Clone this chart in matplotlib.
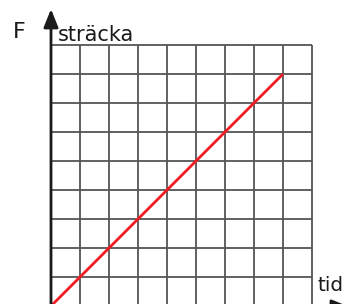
import matplotlib
matplotlib.use("Agg")
import matplotlib.pyplot as plt

# grid cells and the straight line (tid -> sträcka)
n_cells = 9
tid = [0, 8]
stracka = [0, 8]

fig = plt.figure(figsize=(3.46, 3.04), dpi=100)
ax = fig.add_axes([0, 0, 1, 1])
ax.set_axis_off()

# pixel layout: origin at (51, 306), one cell = 29 px
cell = 29.0
ax.set_xlim(-51 / cell, (346 - 51) / cell)
ax.set_ylim((306 - 304) / cell, 306 / cell)

for k in range(1, n_cells + 1):
    ax.vlines(k, 0, n_cells, color="#555555", lw=1.3, zorder=1)
    ax.hlines(k, 0, n_cells, color="#555555", lw=1.3, zorder=1)

ax.plot(tid, stracka, color="#ee1c25", lw=2.0, zorder=3, solid_capstyle="butt")

# axes with arrows
head = "-|>,head_length=0.55,head_width=0.22"
ax.annotate("", xy=(0, (306 - 9) / cell), xytext=(0, -0.5),
            arrowprops=dict(arrowstyle=head, mutation_scale=20, lw=2,
                            color="#1a1a1a", shrinkA=0, shrinkB=0), zorder=4)
ax.annotate("", xy=((350 - 51) / cell, -1 / cell), xytext=(-0.5, -1 / cell),
            arrowprops=dict(arrowstyle=head, mutation_scale=20, lw=2,
                            color="#1a1a1a", shrinkA=0, shrinkB=0),
            annotation_clip=False, zorder=4)

ax.text((13 - 51) / cell, (306 - 38) / cell, "F", fontsize=16, color="#1a1a1a",
        ha="left", va="baseline")
ax.text((58 - 51) / cell, (306 - 41) / cell, "sträcka", fontsize=15, color="#1a1a1a",
        ha="left", va="baseline")
ax.text((317 - 51) / cell, (306 - 291) / cell, "tid", fontsize=14.5, color="#1a1a1a",
        ha="left", va="baseline")

fig.savefig("out.png", dpi=100)
